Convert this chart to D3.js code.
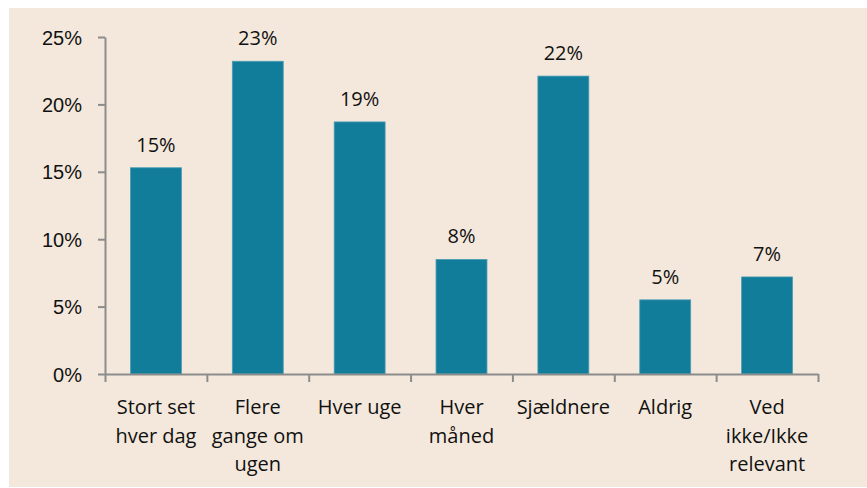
<!DOCTYPE html>
<html>
<head>
<meta charset="utf-8">
<script src="https://cdn.jsdelivr.net/npm/d3@7"></script>
<style>
  html, body { margin: 0; padding: 0; background: #ffffff; }
  svg { display: block; font-family: 'Open Sans', 'Noto Sans', sans-serif; }
  .axis path, .axis line { stroke: #8c8c8c; stroke-width: 2; }
  .axis text { fill: #111111; font-size: 20px; }
</style>
</head>
<body>
<div id="chart"></div>
<script>
// DATA
const categories = [
    ['Stort set', 'hver dag'],
    ['Flere', 'gange om', 'ugen'],
    ['Hver uge'],
    ['Hver', 'måned'],
    ['Sjældnere'],
    ['Aldrig'],
    ['Ved', 'ikke/Ikke', 'relevant']
];
const values = [15.3, 23.2, 18.7, 8.5, 22.1, 5.5, 7.2];
const value_labels = ['15%', '23%', '19%', '8%', '22%', '5%', '7%'];
const y_ticks = [0, 5, 10, 15, 20, 25];

// CONFIG
const width = 867,
    height = 488;

const plot = { left: 105, right: 818, top: 37, bottom: 374 };

const svg = d3.select('#chart')
    .append('svg')
    .attr('width', width)
    .attr('height', height);

svg.append('rect')
    .attr('x', 9)
    .attr('y', 8)
    .attr('width', width - 9)
    .attr('height', height - 9)
    .attr('fill', '#f4e8dc');

const x_scale = d3.scaleBand()
    .domain(d3.range(categories.length))
    .range([plot.left, plot.right])
    .paddingInner(0.5)
    .paddingOuter(0.25);

const x_bound = d3.scaleLinear()
    .domain([0, categories.length])
    .range([plot.left, plot.right]);

const y_scale = d3.scaleLinear()
    .domain([0, 25])
    .range([plot.bottom, plot.top]);

// bars
svg.append('g')
    .selectAll('rect')
    .data(values)
    .enter()
    .append('rect')
    .attr('x', (d, i) => x_scale(i))
    .attr('y', d => y_scale(d))
    .attr('width', x_scale.bandwidth())
    .attr('height', d => y_scale(0) - y_scale(d))
    .attr('fill', '#127d9a')
    .attr('stroke', '#4b9db4')
    .attr('stroke-width', 0.8);

// value labels
svg.append('g')
    .selectAll('text')
    .data(values)
    .enter()
    .append('text')
    .attr('x', (d, i) => x_scale(i) + x_scale.bandwidth() / 2)
    .attr('y', d => y_scale(d) - 16)
    .attr('text-anchor', 'middle')
    .attr('fill', '#111111')
    .style('font-size', '20px')
    .text((d, i) => value_labels[i]);

// y axis
const y_axis = d3.axisLeft(y_scale)
    .tickValues(y_ticks)
    .tickSize(7)
    .tickSizeOuter(0)
    .tickPadding(16)
    .tickFormat(d => d + '%');

svg.append('g')
    .attr('class', 'axis')
    .attr('transform', `translate(${plot.left}, 0)`)
    .call(y_axis)
    .call(g => g.selectAll('.tick text').attr('dy', '0.35em'));

// x axis: line + boundary ticks
const x_axis = d3.axisBottom(x_bound)
    .tickValues(d3.range(categories.length + 1))
    .tickSize(8)
    .tickSizeOuter(0)
    .tickFormat('');

svg.append('g')
    .attr('class', 'axis')
    .attr('transform', `translate(0, ${plot.bottom})`)
    .call(x_axis);

// category labels
const cat_labels = svg.append('g')
    .selectAll('text')
    .data(categories)
    .enter()
    .append('text')
    .attr('text-anchor', 'middle')
    .attr('fill', '#111111')
    .style('font-size', '20px')
    .attr('transform', (d, i) => `translate(${x_scale(i) + x_scale.bandwidth() / 2}, 414)`);

cat_labels.selectAll('tspan')
    .data(d => d)
    .enter()
    .append('tspan')
    .attr('x', 0)
    .attr('y', (d, i) => i * 28.5)
    .text(d => d);
</script>
</body>
</html>
